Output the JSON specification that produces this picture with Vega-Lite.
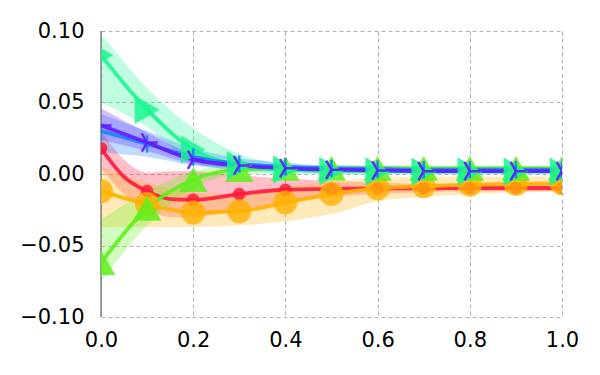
{
  "$schema": "https://vega.github.io/schema/vega-lite/v6.json",
  "width": 461,
  "height": 286,
  "autosize": {"type": "none"},
  "padding": {"left": 101, "top": 31, "right": 38, "bottom": 58},
  "background": "white",
  "config": {
    "view": {"stroke": null},
    "axis": {"labelFont": "DejaVu Sans", "labelFontSize": 21, "labelColor": "#000000", "labelFlush": false, "domain": false, "ticks": false, "grid": true, "gridColor": "#b0b0b0", "gridDash": [4, 3], "gridWidth": 1, "title": null}
  },
  "datasets": {
    "d": [
      {"s": "red", "x": 0.0, "y": 0.018, "lo": 0.004, "hi": 0.030},
      {"s": "red", "x": 0.05, "y": -0.002, "lo": -0.014, "hi": 0.010},
      {"s": "red", "x": 0.1, "y": -0.012, "lo": -0.025, "hi": 0.001},
      {"s": "red", "x": 0.15, "y": -0.0175, "lo": -0.030, "hi": 0.002},
      {"s": "red", "x": 0.2, "y": -0.018, "lo": -0.030, "hi": 0.002},
      {"s": "red", "x": 0.3, "y": -0.014, "lo": -0.025, "hi": -0.001},
      {"s": "red", "x": 0.4, "y": -0.011, "lo": -0.020, "hi": -0.003},
      {"s": "red", "x": 0.5, "y": -0.0105, "lo": -0.016, "hi": -0.005},
      {"s": "red", "x": 0.6, "y": -0.010, "lo": -0.014, "hi": -0.006},
      {"s": "red", "x": 0.7, "y": -0.010, "lo": -0.0125, "hi": -0.007},
      {"s": "red", "x": 0.8, "y": -0.0098, "lo": -0.012, "hi": -0.007},
      {"s": "red", "x": 0.9, "y": -0.0098, "lo": -0.012, "hi": -0.007},
      {"s": "red", "x": 1.0, "y": -0.0098, "lo": -0.012, "hi": -0.007},

      {"s": "orange", "x": 0.0, "y": -0.012, "lo": -0.037, "hi": 0.005},
      {"s": "orange", "x": 0.1, "y": -0.021, "lo": -0.037, "hi": -0.006},
      {"s": "orange", "x": 0.2, "y": -0.027, "lo": -0.037, "hi": -0.013},
      {"s": "orange", "x": 0.3, "y": -0.026, "lo": -0.036, "hi": -0.014},
      {"s": "orange", "x": 0.4, "y": -0.020, "lo": -0.033, "hi": -0.009},
      {"s": "orange", "x": 0.5, "y": -0.014, "lo": -0.028, "hi": -0.005},
      {"s": "orange", "x": 0.6, "y": -0.010, "lo": -0.019, "hi": -0.003},
      {"s": "orange", "x": 0.7, "y": -0.0085, "lo": -0.016, "hi": -0.002},
      {"s": "orange", "x": 0.8, "y": -0.0075, "lo": -0.014, "hi": -0.002},
      {"s": "orange", "x": 0.9, "y": -0.007, "lo": -0.013, "hi": -0.002},
      {"s": "orange", "x": 1.0, "y": -0.0065, "lo": -0.012, "hi": -0.002},

      {"s": "lime", "x": 0.0, "y": -0.062, "lo": -0.075, "hi": -0.032},
      {"s": "lime", "x": 0.1, "y": -0.024, "lo": -0.036, "hi": -0.012},
      {"s": "lime", "x": 0.2, "y": -0.004, "lo": -0.010, "hi": 0.002},
      {"s": "lime", "x": 0.3, "y": 0.003, "lo": 0.0, "hi": 0.006},
      {"s": "lime", "x": 0.4, "y": 0.004, "lo": 0.002, "hi": 0.006},
      {"s": "lime", "x": 0.5, "y": 0.004, "lo": 0.002, "hi": 0.006},
      {"s": "lime", "x": 0.6, "y": 0.004, "lo": 0.002, "hi": 0.006},
      {"s": "lime", "x": 0.7, "y": 0.004, "lo": 0.002, "hi": 0.006},
      {"s": "lime", "x": 0.8, "y": 0.004, "lo": 0.002, "hi": 0.006},
      {"s": "lime", "x": 0.9, "y": 0.004, "lo": 0.002, "hi": 0.006},
      {"s": "lime", "x": 1.0, "y": 0.004, "lo": 0.002, "hi": 0.006},

      {"s": "teal", "x": 0.0, "y": 0.083, "lo": 0.05, "hi": 0.098},
      {"s": "teal", "x": 0.1, "y": 0.045, "lo": 0.033, "hi": 0.06},
      {"s": "teal", "x": 0.2, "y": 0.017, "lo": 0.008, "hi": 0.032},
      {"s": "teal", "x": 0.3, "y": 0.006, "lo": 0.002, "hi": 0.014},
      {"s": "teal", "x": 0.4, "y": 0.003, "lo": 0.0, "hi": 0.007},
      {"s": "teal", "x": 0.5, "y": 0.002, "lo": 0.0, "hi": 0.005},
      {"s": "teal", "x": 0.6, "y": 0.0018, "lo": 0.0, "hi": 0.004},
      {"s": "teal", "x": 0.7, "y": 0.0016, "lo": 0.0, "hi": 0.004},
      {"s": "teal", "x": 0.8, "y": 0.0016, "lo": 0.0, "hi": 0.004},
      {"s": "teal", "x": 0.9, "y": 0.0016, "lo": 0.0, "hi": 0.004},
      {"s": "teal", "x": 1.0, "y": 0.0016, "lo": 0.0, "hi": 0.004},

      {"s": "blue", "x": 0.0, "y": 0.030, "lo": 0.015, "hi": 0.042},
      {"s": "blue", "x": 0.1, "y": 0.021, "lo": 0.012, "hi": 0.030},
      {"s": "blue", "x": 0.2, "y": 0.012, "lo": 0.006, "hi": 0.018},
      {"s": "blue", "x": 0.3, "y": 0.007, "lo": 0.003, "hi": 0.011},
      {"s": "blue", "x": 0.4, "y": 0.005, "lo": 0.002, "hi": 0.008},
      {"s": "blue", "x": 0.5, "y": 0.004, "lo": 0.001, "hi": 0.006},
      {"s": "blue", "x": 0.6, "y": 0.0035, "lo": 0.001, "hi": 0.006},
      {"s": "blue", "x": 0.7, "y": 0.003, "lo": 0.001, "hi": 0.005},
      {"s": "blue", "x": 0.8, "y": 0.003, "lo": 0.001, "hi": 0.005},
      {"s": "blue", "x": 0.9, "y": 0.003, "lo": 0.001, "hi": 0.005},
      {"s": "blue", "x": 1.0, "y": 0.003, "lo": 0.001, "hi": 0.005},

      {"s": "purple", "x": 0.0, "y": 0.034, "lo": 0.024, "hi": 0.046},
      {"s": "purple", "x": 0.1, "y": 0.022, "lo": 0.016, "hi": 0.029},
      {"s": "purple", "x": 0.2, "y": 0.010, "lo": 0.007, "hi": 0.014},
      {"s": "purple", "x": 0.3, "y": 0.006, "lo": 0.004, "hi": 0.008},
      {"s": "purple", "x": 0.4, "y": 0.004, "lo": 0.003, "hi": 0.006},
      {"s": "purple", "x": 0.5, "y": 0.003, "lo": 0.002, "hi": 0.005},
      {"s": "purple", "x": 0.6, "y": 0.0025, "lo": 0.0015, "hi": 0.004},
      {"s": "purple", "x": 0.7, "y": 0.002, "lo": 0.001, "hi": 0.003},
      {"s": "purple", "x": 0.8, "y": 0.002, "lo": 0.001, "hi": 0.003},
      {"s": "purple", "x": 0.9, "y": 0.002, "lo": 0.001, "hi": 0.003},
      {"s": "purple", "x": 1.0, "y": 0.002, "lo": 0.001, "hi": 0.003}
    ],
    "zero": [{"v": 0}]
  },
  "encoding": {
    "x": {"field": "x", "type": "quantitative", "scale": {"domain": [0, 1], "nice": false, "zero": false}, "axis": {"values": [0, 0.2, 0.4, 0.6, 0.8, 1.0], "format": ".1f", "labelPadding": 12}}
  },
  "layer": [
    {
      "data": {"name": "d"},
      "mark": {"type": "area", "interpolate": "monotone", "opacity": 0.28, "clip": true},
      "encoding": {
        "y": {"field": "lo", "type": "quantitative", "scale": {"domain": [-0.1, 0.1], "nice": false}, "axis": {"values": [-0.1, -0.05, 0, 0.05, 0.1], "labelExpr": "replace(format(datum.value, '.2f'), '-', '\u2212')", "labelPadding": 17}},
        "y2": {"field": "hi"},
        "color": {"field": "s", "type": "nominal", "legend": null, "scale": {"domain": ["red", "orange", "lime", "teal", "blue", "purple"], "range": ["#ff1a3d", "#ffb000", "#5ef01a", "#1af590", "#1a7fff", "#601aff"]}}
      }
    },
    {
      "data": {"name": "zero"},
      "mark": {"type": "rule", "color": "#808080", "strokeWidth": 2},
      "encoding": {"y": {"field": "v", "type": "quantitative"}}
    },
    {
      "data": {"name": "zero"},
      "mark": {"type": "rule", "color": "#808080", "strokeWidth": 1.5},
      "encoding": {"x": {"field": "v", "type": "quantitative"}}
    },
    {
      "data": {"name": "d"},
      "mark": {"type": "line", "interpolate": "monotone", "strokeWidth": 3.8, "opacity": 0.9, "clip": true},
      "encoding": {
        "y": {"field": "y", "type": "quantitative"},
        "color": {"field": "s", "type": "nominal", "legend": null}
      }
    },
    {
      "data": {"name": "d"},
      "transform": [{"filter": "datum.s == 'red' && abs(datum.x*10 - round(datum.x*10)) < 0.001"}],
      "mark": {"type": "point", "shape": "circle", "filled": true, "size": 160, "color": "#ff1a3d", "opacity": 0.85, "clip": true},
      "encoding": {"y": {"field": "y", "type": "quantitative"}}
    },
    {
      "data": {"name": "d"},
      "transform": [{"filter": "datum.s == 'orange'"}],
      "mark": {"type": "point", "shape": "circle", "filled": true, "size": 580, "color": "#ffb000", "opacity": 0.8, "clip": true},
      "encoding": {"y": {"field": "y", "type": "quantitative"}}
    },
    {
      "data": {"name": "d"},
      "transform": [{"filter": "datum.s == 'lime'"}],
      "mark": {"type": "point", "shape": "triangle-up", "filled": true, "size": 820, "color": "#5ef01a", "opacity": 0.85, "clip": true},
      "encoding": {"y": {"field": "y", "type": "quantitative"}}
    },
    {
      "data": {"name": "d"},
      "transform": [{"filter": "datum.s == 'teal'"}],
      "mark": {"type": "point", "shape": "triangle-right", "filled": true, "size": 800, "color": "#1af590", "opacity": 0.85, "clip": true},
      "encoding": {"y": {"field": "y", "type": "quantitative"}}
    },
    {
      "data": {"name": "d"},
      "transform": [{"filter": "datum.s == 'blue'"}],
      "mark": {"type": "point", "shape": "M0,-1L0,1", "filled": false, "size": 300, "strokeWidth": 2.5, "color": "#1a7fff", "opacity": 0.9, "clip": true},
      "encoding": {"y": {"field": "y", "type": "quantitative"}}
    },
    {
      "data": {"name": "d"},
      "transform": [{"filter": "datum.s == 'purple'"}],
      "mark": {"type": "point", "shape": "M0,0L1,0M0,0L-0.5,-0.866M0,0L-0.5,0.866", "filled": false, "size": 450, "strokeWidth": 2.5, "color": "#601aff", "opacity": 0.9, "clip": true},
      "encoding": {"y": {"field": "y", "type": "quantitative"}}
    }
  ]
}
